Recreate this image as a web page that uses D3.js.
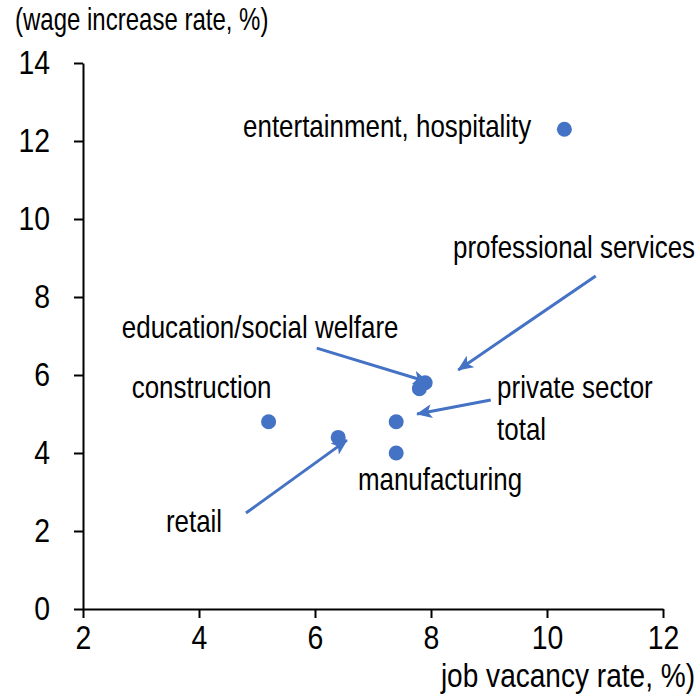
<!DOCTYPE html>
<html>
<head>
<meta charset="utf-8">
<script src="https://cdn.jsdelivr.net/npm/d3@7"></script>
<style>
  html, body { margin: 0; padding: 0; background: #fff; }
  svg text { font-family: "Liberation Sans", Arial, sans-serif; fill: #000; }
</style>
</head>
<body>
<svg id="chart" width="700" height="700"></svg>
<script>
// Industries: job vacancy rate (%) vs wage increase rate (%)
const industries = ["entertainment, hospitality", "education/social welfare", "professional services",
                    "construction", "retail", "private sector total", "manufacturing"];
const vacancyRate = [10.3, 7.9, 7.8, 5.2, 6.4, 7.4, 7.4];
const wageIncrease = [12.3, 5.8, 5.65, 4.8, 4.4, 4.8, 4.0];

const xTicks = [2, 4, 6, 8, 10, 12];
const yTicks = [0, 2, 4, 6, 8, 10, 12, 14];

// Label text lines and anchor (data units)
const labelLines = [["entertainment, hospitality"], ["education/social welfare"], ["professional services"],
                    ["construction"], ["retail"], ["private sector", "total"], ["manufacturing"]];
const labelX = [4.76, 2.67, 8.38, 2.84, 3.43, 9.14, 6.74];
const labelY = [12.1, 6.95, 9.0, 5.41, 1.97, 5.41, 3.05];

// Callout arrows (data units): start -> tip
const arrowFromX = [6.03, 10.84, 9.03, 4.81];
const arrowFromY = [6.69, 8.54, 5.36, 2.46];
const arrowToX = [7.95, 8.47, 7.76, 6.55];
const arrowToY = [5.82, 6.13, 5.0, 4.33];

const blue = "#4472C4";
const svg = d3.select("#chart");

// Condensed lettering: squeeze each text horizontally by factor k
function narrow(sel, k) {
  sel.each(function () {
    const w = this.getComputedTextLength();
    d3.select(this).attr("textLength", w * k).attr("lengthAdjust", "spacingAndGlyphs");
  });
}

const x = d3.scaleLinear().domain([2, 12]).range([83, 663]);
const y = d3.scaleLinear().domain([0, 14]).range([609, 63]);

// Axes
const xAxis = svg.append("g").attr("transform", `translate(0,${y(0)})`)
  .call(d3.axisBottom(x).tickValues(xTicks).tickSize(9).tickSizeOuter(0).tickPadding(8).tickFormat(d3.format("d")));
const yAxis = svg.append("g").attr("transform", `translate(${x(2)},0)`)
  .call(d3.axisLeft(y).tickValues(yTicks).tickSize(9).tickSizeOuter(0).tickPadding(24).tickFormat(d3.format("d")));
[xAxis, yAxis].forEach(g => {
  g.selectAll("path.domain").attr("stroke", "#000").attr("stroke-width", 2);
  g.selectAll(".tick line").attr("stroke", "#000").attr("stroke-width", 2);
  g.selectAll(".tick text").attr("font-size", 33).attr("font-family", null).call(narrow, 0.86);
});

// Axis titles
svg.append("text").attr("x", 15).attr("y", 30).attr("font-size", 32)
  .text("(wage increase rate, %)").call(narrow, 0.75);
svg.append("text").attr("x", 695).attr("y", 687).attr("font-size", 33).attr("text-anchor", "end")
  .text("job vacancy rate, %)").call(narrow, 0.85);

// Points
svg.append("g").selectAll("circle").data(industries).join("circle")
  .attr("cx", (d, i) => x(vacancyRate[i]))
  .attr("cy", (d, i) => y(wageIncrease[i]))
  .attr("r", 7.5)
  .attr("fill", blue);

// Arrowhead
svg.append("defs").append("marker")
  .attr("id", "head").attr("markerUnits", "userSpaceOnUse")
  .attr("viewBox", "0 0 16 14").attr("refX", 15).attr("refY", 7)
  .attr("markerWidth", 16).attr("markerHeight", 14).attr("orient", "auto")
  .append("path").attr("d", "M0,0 L16,7 L0,14 L4,7 Z").attr("fill", blue);

svg.append("g").selectAll("line").data(arrowFromX).join("line")
  .attr("x1", (d, i) => x(arrowFromX[i]))
  .attr("y1", (d, i) => y(arrowFromY[i]))
  .attr("x2", (d, i) => x(arrowToX[i]))
  .attr("y2", (d, i) => y(arrowToY[i]))
  .attr("stroke", blue).attr("stroke-width", 3)
  .attr("marker-end", "url(#head)");

// Labels, one text element per line
const lineItems = labelLines.flatMap((lines, i) => lines.map((t, j) => ({ t, i, j })));
svg.append("g").selectAll("text").data(lineItems).join("text")
  .attr("font-size", 32)
  .attr("x", d => x(labelX[d.i]))
  .attr("y", d => y(labelY[d.i]) + d.j * 42)
  .text(d => d.t)
  .call(narrow, 0.81);
</script>
</body>
</html>
